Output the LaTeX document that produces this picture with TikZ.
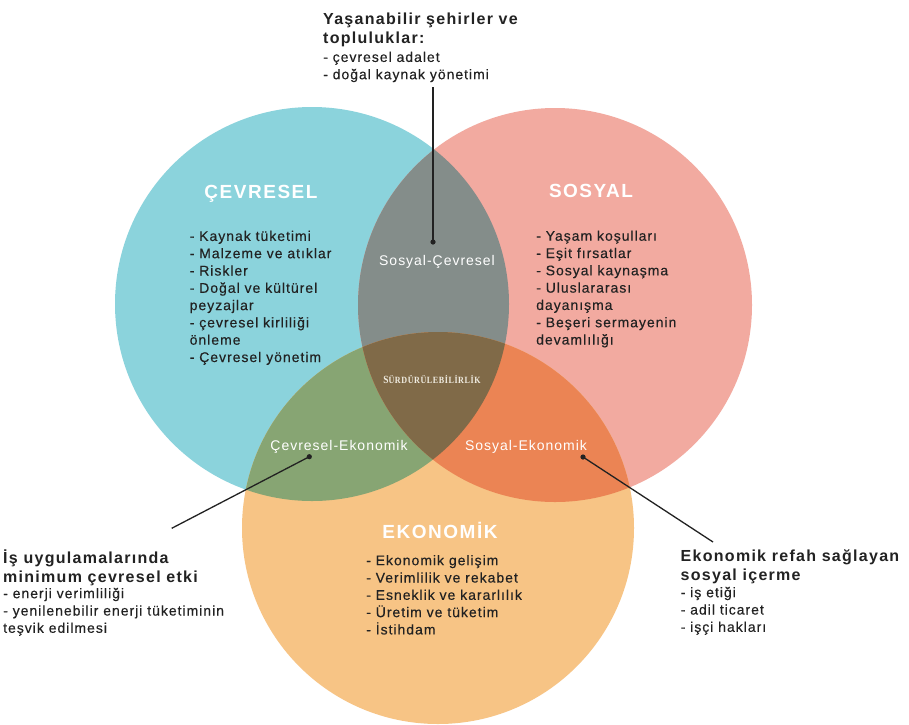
\documentclass[tikz,border=0pt]{standalone}
\usepackage{fontspec}
\setmainfont{Liberation Sans}
\newfontfamily\bodyf[LetterSpace=7,FakeBold=0.3]{Liberation Sans}
\newfontfamily\lapf[LetterSpace=7]{Liberation Sans}
\newfontfamily\headf[LetterSpace=8]{Liberation Sans}
\newfontfamily\serf[LetterSpace=6,FakeStretch=0.85]{Liberation Serif}
\definecolor{cTeal}{RGB}{139,211,220}
\definecolor{cPink}{RGB}{242,170,160}
\definecolor{cOrange}{RGB}{247,196,133}
\definecolor{cGray}{RGB}{132,141,138}
\definecolor{cGreen}{RGB}{135,165,115}
\definecolor{cRed}{RGB}{235,132,84}
\definecolor{cBrown}{RGB}{128,106,72}
\definecolor{cText}{RGB}{34,34,34}
\definecolor{cSur}{RGB}{240,236,225}
\begin{document}
\begin{tikzpicture}[x=1pt,y=-1pt,
  body/.style={font=\bodyf\fontsize{14}{17.3}\selectfont, anchor=north west, align=left, inner sep=0pt, text=cText},
  ttl/.style={font=\headf\bfseries\fontsize{16}{19}\selectfont, anchor=north west, align=left, inner sep=0pt, text=cText},
  head/.style={font=\headf\bfseries\fontsize{19}{22}\selectfont, anchor=base, inner sep=0pt, text=white},
  lap/.style={font=\lapf\fontsize{14}{17}\selectfont, anchor=base, inner sep=0pt, text=white},
  lead/.style={draw=cText, line width=1.3pt},
  dotf/.style={fill=cText}]
\useasboundingbox (0,0) rectangle (909,724);
\fill[white] (0,0) rectangle (909,724);
% circles
\fill[cTeal] (312,304) circle (197pt);
\fill[cPink] (555,305) circle (197pt);
\fill[cOrange] (438,528) circle (196pt);
\begin{scope}
  \clip (312,304) circle (197pt);
  \fill[cGray] (555,305) circle (197pt);
\end{scope}
\begin{scope}
  \clip (312,304) circle (197pt);
  \fill[cGreen] (438,528) circle (196pt);
\end{scope}
\begin{scope}
  \clip (555,305) circle (197pt);
  \fill[cRed] (438,528) circle (196pt);
\end{scope}
\begin{scope}
  \clip (312,304) circle (197pt);
  \clip (555,305) circle (197pt);
  \fill[cBrown] (438,528) circle (196pt);
\end{scope}
% headings
\node[head] (hcev) at (261,198) {ÇEVRESEL};
\node[head] (hsos) at (591,197) {SOSYAL};
\node[head] (heko) at (440,538) {EKONOMİK};
% lists
\node[body] (lcev) at (189.5,226.7) {\rule{0pt}{14pt}- Kaynak tüketimi\\- Malzeme ve atıklar\\- Riskler\\- Doğal ve kültürel\\peyzajlar\\- çevresel kirliliği\\önleme\\- Çevresel yönetim};
\node[body] (lsos) at (536,226.5) {\rule{0pt}{14pt}- Yaşam koşulları\\- Eşit fırsatlar\\- Sosyal kaynaşma\\- Uluslararası\\dayanışma\\- Beşeri sermayenin\\devamlılığı};
\node[body] (leko) at (366,551) {\rule{0pt}{14pt}- Ekonomik gelişim\\- Verimlilik ve rekabet\\- Esneklik ve kararlılık\\- Üretim ve tüketim\\- İstihdam};
% overlap labels
\node[lap] (osc) at (437,265) {Sosyal-Çevresel};
\node[lap] (oce) at (339,450) {Çevresel-Ekonomik};
\node[lap] (ose) at (526,450) {Sosyal-Ekonomik};
\node[font=\serf\bfseries, text=cSur, anchor=base, inner sep=0pt] (osur) at (432,383.5) {\fontsize{11}{12}\selectfont S\fontsize{9.5}{11}\selectfont ÜRDÜRÜLEBİLİRLİK};
% callouts
\node[ttl] (ttop) at (323,8) {\rule{0pt}{16pt}Yaşanabilir şehirler ve\\topluluklar:};
\node[body] (btop) at (323,47.7) {\rule{0pt}{14pt}- çevresel adalet\\- doğal kaynak yönetimi};
\node[ttl] (tleft) at (3,547) {\rule{0pt}{16pt}İş uygulamalarında\\minimum çevresel etki};
\node[body] (bleft) at (3,584) {\rule{0pt}{14pt}- enerji verimliliği\\- yenilenebilir enerji tüketiminin\\teşvik edilmesi};
\node[ttl] (tright) at (680.5,545) {\rule{0pt}{16pt}Ekonomik refah sağlayan\\sosyal içerme};
\node[body] (bright) at (680.5,583) {\rule{0pt}{14pt}- iş etiği\\- adil ticaret\\- işçi hakları};
% leader lines
\coordinate (etop) at (433,87);
\coordinate (dtop) at (433,242);
\coordinate (eleft) at (171.7,528.3);
\coordinate (dleft) at (309.3,456.7);
\coordinate (eright) at (713,542);
\coordinate (dright) at (583,457);
\draw[lead] (etop) -- (dtop);
\draw[lead] (eleft) -- (dleft);
\draw[lead] (eright) -- (dright);
\fill[dotf] (dtop) circle (2.6pt);
\fill[dotf] (dleft) circle (2.6pt);
\fill[dotf] (dright) circle (2.6pt);
\end{tikzpicture}
\end{document}
